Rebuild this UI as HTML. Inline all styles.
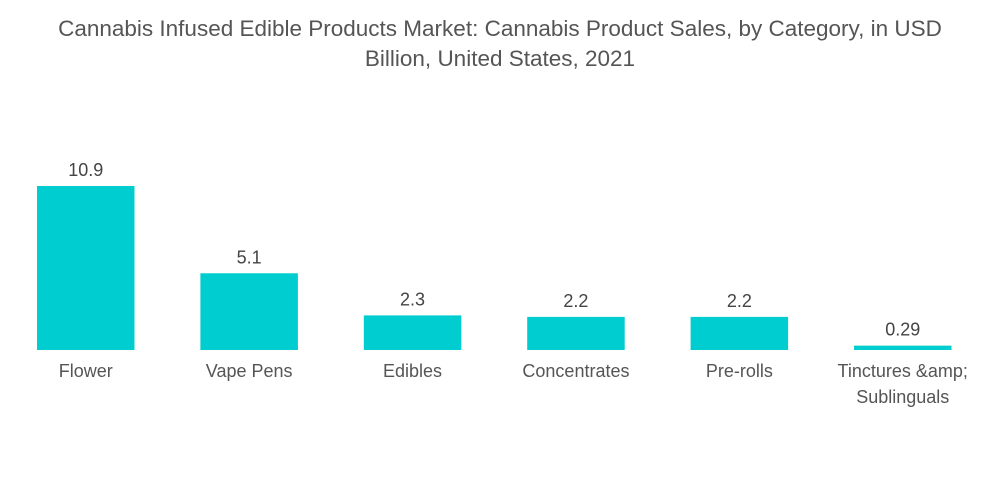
<!DOCTYPE html>
<html><head><meta charset="utf-8"><style>
body{margin:0;background:#fff;width:1000px;height:504px;overflow:hidden;font-family:"Liberation Sans",sans-serif}
#title{position:absolute;top:14px;left:0;width:1000px;text-align:center;font-size:22.5px;line-height:30px;color:#555}
svg{position:absolute;left:0;top:0}
</style></head><body>
<div id="title">Cannabis Infused Edible Products Market: Cannabis Product Sales, by Category, in USD<br>Billion, United States, 2021</div>
<svg id="chart" width="1000" height="504"></svg>
<script>
const categories=[["Flower"],["Vape Pens"],["Edibles"],["Concentrates"],["Pre-rolls"],["Tinctures &amp;","Sublinguals"]];
const values=[10.9,5.1,2.3,2.2,2.2,0.29];
const valueLabels=["10.9","5.1","2.3","2.2","2.2","0.29"];
const svg=document.getElementById('chart');
const NS='http://www.w3.org/2000/svg';
const baseY=350, pxPerUnit=164/10.9, x0=37, pitch=163.4, bw=97.5;
const xAt=i=>x0+i*pitch, yAt=v=>baseY-v*pxPerUnit;
values.forEach((v,i)=>{
  const r=document.createElementNS(NS,'rect');
  
  
  r.setAttribute('x',xAt(i));r.setAttribute('y',yAt(v));
  r.setAttribute('width',bw);r.setAttribute('height',baseY-yAt(v));
  r.setAttribute('fill','#00cdd0');svg.appendChild(r);
  const t=document.createElementNS(NS,'text');
  
  
  t.setAttribute('x',xAt(i)+bw/2);t.setAttribute('y',yAt(v)-10);
  t.setAttribute('text-anchor','middle');t.setAttribute('font-size','18');t.setAttribute('fill','#444');
  t.textContent=valueLabels[i];svg.appendChild(t);
  categories[i].forEach((line,j)=>{
    const c=document.createElementNS(NS,'text');
    
    
    c.setAttribute('x',xAt(i)+bw/2);c.setAttribute('y',377+j*26);
    c.setAttribute('text-anchor','middle');c.setAttribute('font-size','18');c.setAttribute('fill','#555');
    c.textContent=line;svg.appendChild(c);
  });
});
</script>
</body></html>
